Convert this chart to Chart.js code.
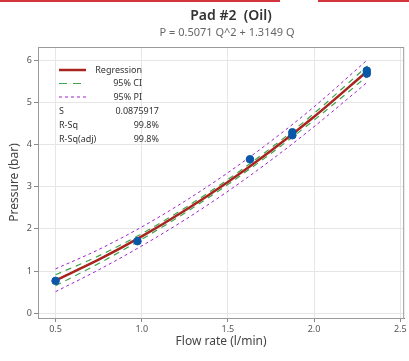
<!DOCTYPE html>
<html>
<head>
<meta charset="utf-8">
<script src="https://cdn.jsdelivr.net/npm/chart.js@4.4.0/dist/chart.umd.min.js"></script>
<style>
    html, body { margin: 0; padding: 0; background: #fff; }
    #wrap { position: relative; width: 409px; height: 361px; }
    .bar { position: absolute; top: 0; height: 2px; background: #d3343b; }
</style>
</head>
<body>
<div id="wrap">
    <canvas id="fitChart" width="409" height="361"></canvas>
    <div class="bar" style="left:0;width:280px"></div>
    <div class="bar" style="left:318px;width:91px"></div>
</div>
<script>
// measured points
const flowQ = [0.50, 0.975, 1.628, 1.874, 1.874, 2.306, 2.306];
const pressP = [0.77, 1.71, 3.65, 4.22, 4.29, 5.68, 5.75];

// fitted curve P = 0.5071 Q^2 + 1.3149 Q and its bands
const fitQ = [0.5, 0.75, 1.0, 1.25, 1.5, 1.75, 2.0, 2.31];
const fitP = [0.784, 1.271, 1.822, 2.436, 3.113, 3.854, 4.658, 5.743];
const ciLow = [0.654, 1.181, 1.757, 2.376, 3.053, 3.789, 4.578, 5.623];
const ciHigh = [0.914, 1.361, 1.887, 2.496, 3.173, 3.919, 4.738, 5.863];
const piLow = [0.514, 1.031, 1.597, 2.216, 2.893, 3.629, 4.423, 5.478];
const piHigh = [1.054, 1.511, 2.047, 2.656, 3.333, 4.079, 4.893, 6.008];

const xTicks = [0.5, 1.0, 1.5, 2.0, 2.5];
const yTicks = [0, 1, 2, 3, 4, 5, 6];

const stats = [['S', '0.0875917'], ['R-Sq', '99.8%'], ['R-Sq(adj)', '99.8%']];

const FONT = "'Noto Sans', 'Open Sans', sans-serif";
const RED = '#a8251f';
const GREEN = '#3fa34d';
const PURPLE = '#a020d0';
const BLUE = '#0a57a8';

function pts(xs, ys) {
    return xs.map((x, i) => ({ x: x, y: ys[i] }));
}

function curve(label, ys, color, width, dash) {
    return {
        label: label,
        data: pts(fitQ, ys),
        showLine: true,
        borderColor: color,
        borderWidth: width,
        borderDash: dash,
        pointRadius: 0,
        fill: false,
        cubicInterpolationMode: 'monotone'
    };
}

// titles, plot frame and the legend/stat box
const decor = {
    id: 'decor',
    beforeDatasetsDraw(chart) {
        const a = chart.chartArea;
        const ctx = chart.ctx;
        ctx.save();
        ctx.strokeStyle = '#9a9a9a';
        ctx.lineWidth = 1;
        ctx.strokeRect(a.left + 0.5, a.top + 0.5, a.right - a.left - 1, a.bottom - a.top);
        ctx.restore();
    },
    afterDraw(chart) {
        const ctx = chart.ctx;
        ctx.save();
        ctx.textBaseline = 'middle';
        ctx.textAlign = 'center';
        ctx.fillStyle = '#333';
        ctx.font = '600 14px ' + FONT;
        ctx.fillText('Pad #2  (Oil)', 231, 16);
        ctx.fillStyle = '#666';
        ctx.font = '11px ' + FONT;
        ctx.fillText('P = 0.5071 Q^2 + 1.3149 Q', 227, 33);

        // legend rows
        const rows = [
            ['Regression', RED, 2.5, []],
            ['95% CI', GREEN, 1.2, [8, 6]],
            ['95% PI', PURPLE, 1, [3, 3]]
        ];
        ctx.font = '9px ' + FONT;
        rows.forEach((r, i) => {
            const y = 70 + i * 13.5;
            ctx.beginPath();
            ctx.strokeStyle = r[1];
            ctx.lineWidth = r[2];
            ctx.setLineDash(r[3]);
            ctx.moveTo(59, y);
            ctx.lineTo(86, y);
            ctx.stroke();
            ctx.setLineDash([]);
            ctx.fillStyle = '#333';
            ctx.textAlign = 'right';
            ctx.fillText(r[0], 142, y);
        });
        stats.forEach((s, i) => {
            const y = 111 + i * 14.2;
            ctx.textAlign = 'left';
            ctx.fillText(s[0], 59, y);
            ctx.textAlign = 'right';
            ctx.fillText(s[1], 159, y);
        });
        ctx.restore();
    }
};

const fitConfig = {
    type: 'scatter',
    data: {
        datasets: [
            {
                label: 'Data',
                data: pts(flowQ, pressP),
                backgroundColor: BLUE,
                borderColor: BLUE,
                pointRadius: 3.8,
                pointHoverRadius: 3.8
            },
            curve('Regression', fitP, RED, 2.5, []),
            curve('CI low', ciLow, GREEN, 1.2, [6, 5]),
            curve('CI high', ciHigh, GREEN, 1.2, [6, 5]),
            curve('PI low', piLow, PURPLE, 1, [3, 3]),
            curve('PI high', piHigh, PURPLE, 1, [3, 3])
        ]
    },
    options: {
        responsive: false,
        animation: false,
        layout: { padding: { top: 47, right: 2, left: 0, bottom: 0 } },
        plugins: {
            legend: { display: false },
            tooltip: { enabled: false }
        },
        scales: {
            x: {
                type: 'linear',
                min: 0.398,
                max: 2.523,
                afterBuildTicks: s => { s.ticks = xTicks.map(v => ({ value: v })); },
                afterFit: s => { s.height = 43; },
                ticks: {
                    callback: v => v.toFixed(1),
                    font: { family: FONT, size: 9 },
                    color: '#555',
                    padding: 2,
                    maxRotation: 0
                },
                grid: { color: '#e6e6e6', tickLength: 4, tickColor: '#888' },
                border: { color: '#888' },
                title: {
                    display: true,
                    text: 'Flow rate (l/min)',
                    font: { family: FONT, size: 12 },
                    color: '#444',
                    padding: { top: 4, bottom: 12 }
                }
            },
            y: {
                min: -0.11,
                max: 6.31,
                afterBuildTicks: s => { s.ticks = yTicks.map(v => ({ value: v })); },
                afterFit: s => { s.width = 38; },
                ticks: {
                    font: { family: FONT, size: 9 },
                    color: '#555',
                    padding: 2
                },
                grid: { color: '#e6e6e6', tickLength: 4, tickColor: '#888' },
                border: { color: '#888' },
                title: {
                    display: true,
                    text: 'Pressure (bar)',
                    font: { family: FONT, size: 12 },
                    color: '#444',
                    padding: { top: 7, bottom: 0 }
                }
            }
        }
    },
    plugins: [decor]
};

const fitChart = new Chart(document.getElementById('fitChart'), fitConfig);
</script>
</body>
</html>
